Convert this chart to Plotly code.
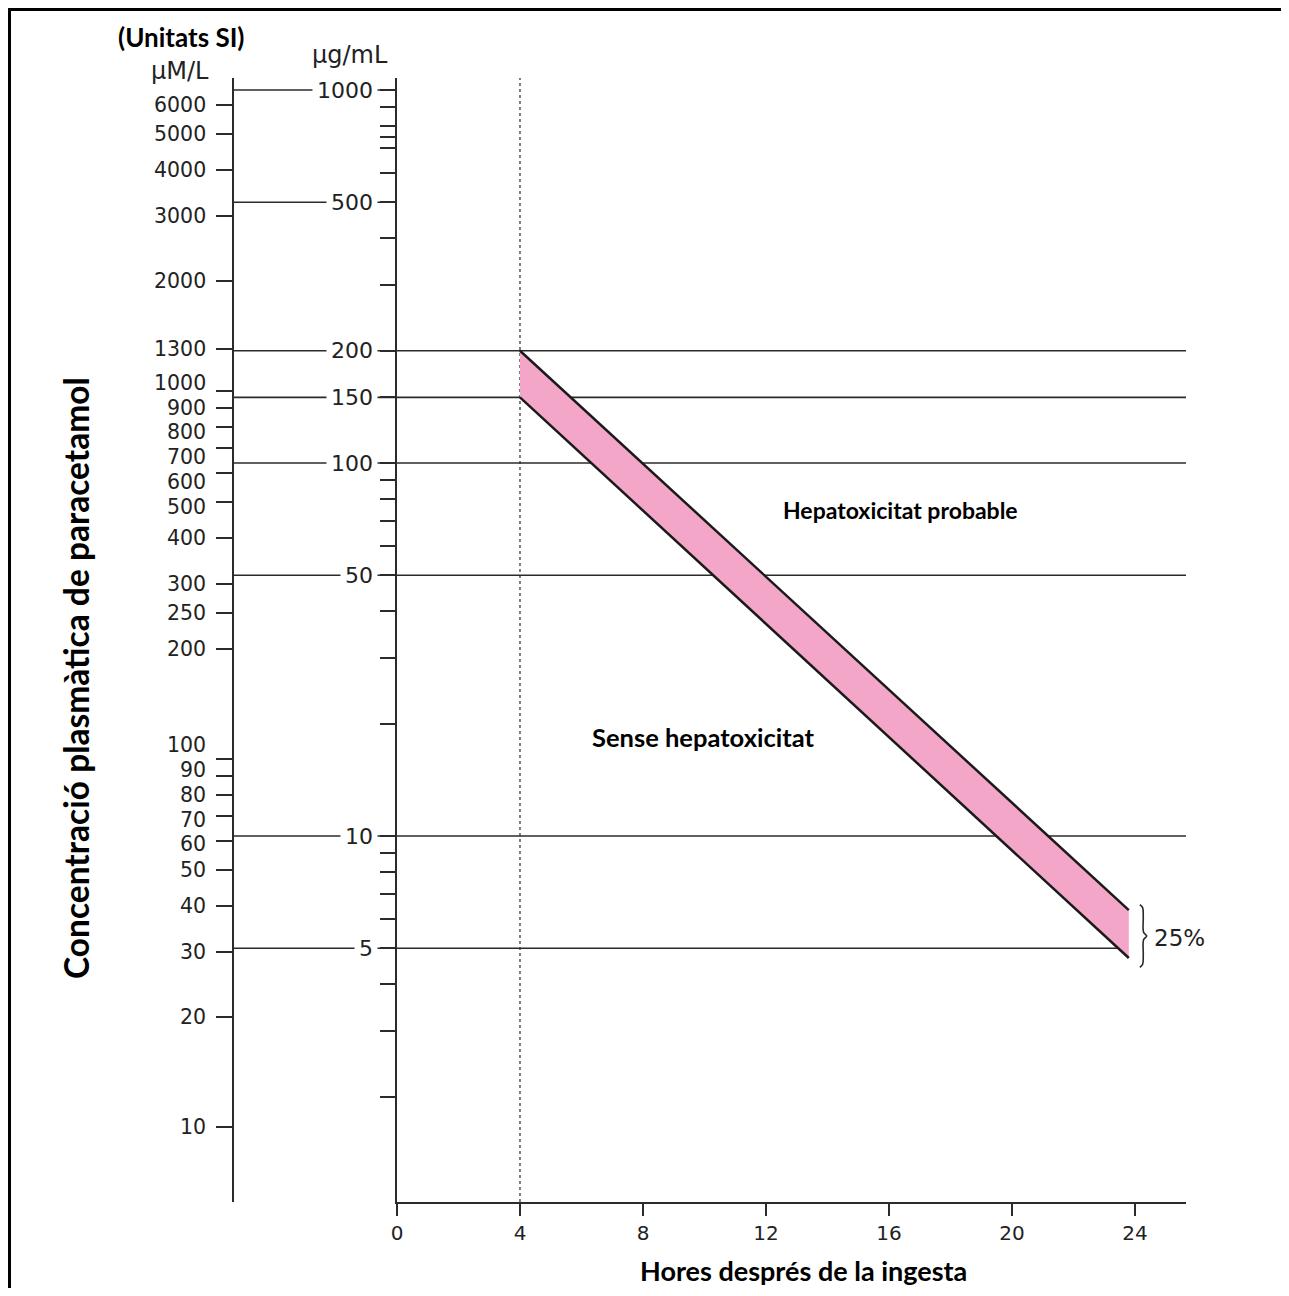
import math
import plotly.graph_objects as go

# ---------------- data ----------------
hours_ticks = [0, 4, 8, 12, 16, 20, 24]
ugml_major = [1000, 500, 200, 150, 100, 50, 10, 5]
ugml_full_lines = [200, 150, 100, 50, 10]          # lines crossing the whole chart
ugml_band_lines = [5]                              # line stopping at the band
ugml_short_lines = [1000, 500]                     # lines only between the two scales
ugml_minor = [900, 800, 750, 700, 600, 400, 300, 90, 80, 70, 60, 40, 30, 20,
              9, 8, 7, 6, 4, 3, 2]
umol_ticks = [6000, 5000, 4000, 3000, 2000, 1300, 1000, 900, 800, 700, 600, 500,
              400, 300, 250, 200, 100, 90, 80, 70, 60, 50, 40, 30, 20, 10]
band_hours = [4, 23.8]
band_upper = [200, 6.33]
band_lower = [150, 4.71]
line_4h = 4

# ---------------- layout geometry ----------------
# the page body has an 8 px margin, so the figure is drawn 8 px right/down
OFF = 8
W, H = 1289 - OFF, 1296 - 2 * OFF
PL, PR, PT, PB = 233, 1186, 78, 1202           # plot area in page pixels
ML, MT = PL - OFF, PT - OFF
MR, MB = W - (PR - OFF), H - (PB - OFF)
PW, PH = PR - PL, PB - PT


def XP(px):
    return (px - PL) / PW


def YP(py):
    return (PB - py) / PH


INK = "#2b2b2b"
TXT = "#222222"
NUM = "DejaVu Sans"
UMOLFONT = dict(family=NUM, size=20.5, color=TXT)
UGFONT = dict(family=NUM, size=22, color=TXT)
XTICKFONT = dict(family=NUM, size=20, color=TXT)
BOLD = "Lato"

# small vertical nudges (px, + = up) of crowded umol/L labels, as in the original print
umol_label_nudge = {1000: 8, 800: -5, 700: -9, 600: -9, 500: -5,
                    100: 14, 90: 6, 70: -3.5, 60: -3}

x_dom0 = XP(397)
x_range = [0, 25.66]
y_range = [0.0188, 3.0322]        # log10 of ug/mL
y2_range = [0.797, 3.8516]        # log10 of umol/L

fig = go.Figure()

# invisible trace so the umol/L axis is drawn
fig.add_trace(go.Scatter(x=[0] * len(umol_ticks), y=umol_ticks, yaxis="y2",
                         mode="markers", marker=dict(opacity=0),
                         hoverinfo="skip", showlegend=False))

# pink band
fig.add_trace(go.Scatter(
    x=band_hours + band_hours[::-1],
    y=band_upper + band_lower[::-1],
    fill="toself", fillcolor="#F4A6C8", mode="lines",
    line=dict(width=0), hoverinfo="skip", showlegend=False))
fig.add_trace(go.Scatter(x=band_hours, y=band_upper, mode="lines",
                         line=dict(color="#1a1a1a", width=2.5),
                         hoverinfo="skip", showlegend=False))
fig.add_trace(go.Scatter(x=band_hours, y=band_lower, mode="lines",
                         line=dict(color="#1a1a1a", width=2.5),
                         hoverinfo="skip", showlegend=False))

# brace "}" next to band end
lt = math.log10(band_upper[-1] * 1.035)
lb = math.log10(band_lower[-1] / 1.06)
brace_pts = [(24.16, 0.0), (24.25, 0.05), (24.27, 0.2), (24.28, 0.44),
             (24.38, 0.5), (24.28, 0.56), (24.27, 0.8), (24.25, 0.95), (24.16, 1.0)]
fig.add_trace(go.Scatter(
    x=[p[0] for p in brace_pts],
    y=[10 ** (lt + p[1] * (lb - lt)) for p in brace_pts],
    mode="lines", line=dict(color=INK, width=1.6, shape="spline"),
    hoverinfo="skip", showlegend=False))


def lower_edge_hour(v):
    """hour at which the lower band edge reaches concentration v"""
    l0, l1 = math.log10(band_lower[0]), math.log10(band_lower[1])
    h0, h1 = band_hours
    return h0 + (math.log10(v) - l0) * (h1 - h0) / (l1 - l0)


LINE = dict(color=INK, width=1.6)
shapes = []
for v in ugml_full_lines:
    shapes.append(dict(type="line", xref="paper", yref="y", x0=0, x1=1, y0=v, y1=v,
                       line=LINE, layer="below"))
for v in ugml_short_lines:
    shapes.append(dict(type="line", xref="paper", yref="y", x0=0, x1=x_dom0, y0=v, y1=v,
                       line=LINE, layer="below"))
for v in ugml_band_lines:
    shapes.append(dict(type="line", xref="paper", yref="y", x0=0, x1=x_dom0, y0=v, y1=v,
                       line=LINE, layer="below"))
    shapes.append(dict(type="line", xref="x", yref="y", x0=0, x1=lower_edge_hour(v),
                       y0=v, y1=v, line=LINE, layer="below"))
# dotted 4 h line
shapes.append(dict(type="line", xref="x", yref="paper", x0=line_4h, x1=line_4h, y0=0, y1=1,
                   line=dict(color=INK, width=1.2, dash="dot"), layer="below"))
# outer frame
shapes.append(dict(type="rect", xref="paper", yref="paper",
                   x0=XP(OFF + 1.5), x1=XP(1320), y0=YP(1330), y1=YP(OFF + 1.5),
                   line=dict(color="black", width=3), fillcolor="rgba(0,0,0,0)",
                   layer="below"))

annotations = []
# ug/mL labels (white box breaks the reference line behind them)
for v in ugml_major:
    annotations.append(dict(text=str(v), xref="paper", yref="y", x=XP(378),
                            y=math.log10(v), xanchor="right", yanchor="middle",
                            showarrow=False, bgcolor="white", borderpad=4,
                            font=UGFONT))
# umol/L labels
for v in umol_ticks:
    annotations.append(dict(text=str(v), xref="paper", yref="y2", x=XP(208),
                            y=math.log10(v), xanchor="right", yanchor="middle",
                            yshift=umol_label_nudge.get(v, 0),
                            showarrow=False, font=UMOLFONT))


def label(text, px, py, size, bold=True, family=BOLD, **kw):
    return dict(text=("<b>%s</b>" % text) if bold else text,
                xref="paper", yref="paper", x=XP(px), y=YP(py),
                xanchor="center", yanchor="middle", showarrow=False,
                font=dict(family=family, size=size, color="black" if bold else TXT), **kw)


annotations += [
    label("(Unitats SI)", 181, 37, 26),
    label("µM/L", 180, 71, 24, bold=False, family=NUM),
    label("µg/mL", 350, 55, 24, bold=False, family=NUM),
    label("Concentració plasmàtica de paracetamol", 76, 678, 33.5, textangle=-90),
    label("Hores després de la ingesta", 803, 1270, 27),
    label("Hepatoxicitat probable", 900, 510, 23),
    label("Sense hepatoxicitat", 703, 737, 25.5),
    dict(text="25%", xref="x", yref="y", x=24.55,
         y=(math.log10(band_upper[-1]) + math.log10(band_lower[-1])) / 2,
         xanchor="left", yanchor="middle", yshift=-4, showarrow=False,
         font=dict(family=NUM, size=23, color=TXT)),
]

fig.update_layout(
    width=W, height=H,
    margin=dict(l=ML, r=MR, t=MT, b=MB, pad=0),
    paper_bgcolor="white", plot_bgcolor="rgba(0,0,0,0)",
    showlegend=False,
    xaxis=dict(domain=[x_dom0, 1], range=x_range, tickvals=hours_ticks,
               ticks="outside", ticklen=12, tickwidth=1.6, tickcolor=INK,
               showline=True, linecolor=INK, linewidth=1.6,
               showgrid=False, zeroline=False, tickfont=XTICKFONT),
    yaxis=dict(type="log", range=y_range, anchor="x", side="left",
               tickvals=ugml_major + ugml_minor, showticklabels=False,
               ticks="outside", ticklen=15, tickwidth=1.6, tickcolor=INK,
               showline=True, linecolor=INK, linewidth=1.6,
               showgrid=False, zeroline=False),
    yaxis2=dict(type="log", range=y2_range, overlaying="y", anchor="free",
                position=0, side="left",
                tickvals=umol_ticks, showticklabels=False,
                ticks="outside", ticklen=16, tickwidth=1.6, tickcolor=INK,
                showline=True, linecolor=INK, linewidth=1.6,
                showgrid=False, zeroline=False),
    shapes=shapes, annotations=annotations,
)

fig.write_html("out.html")
